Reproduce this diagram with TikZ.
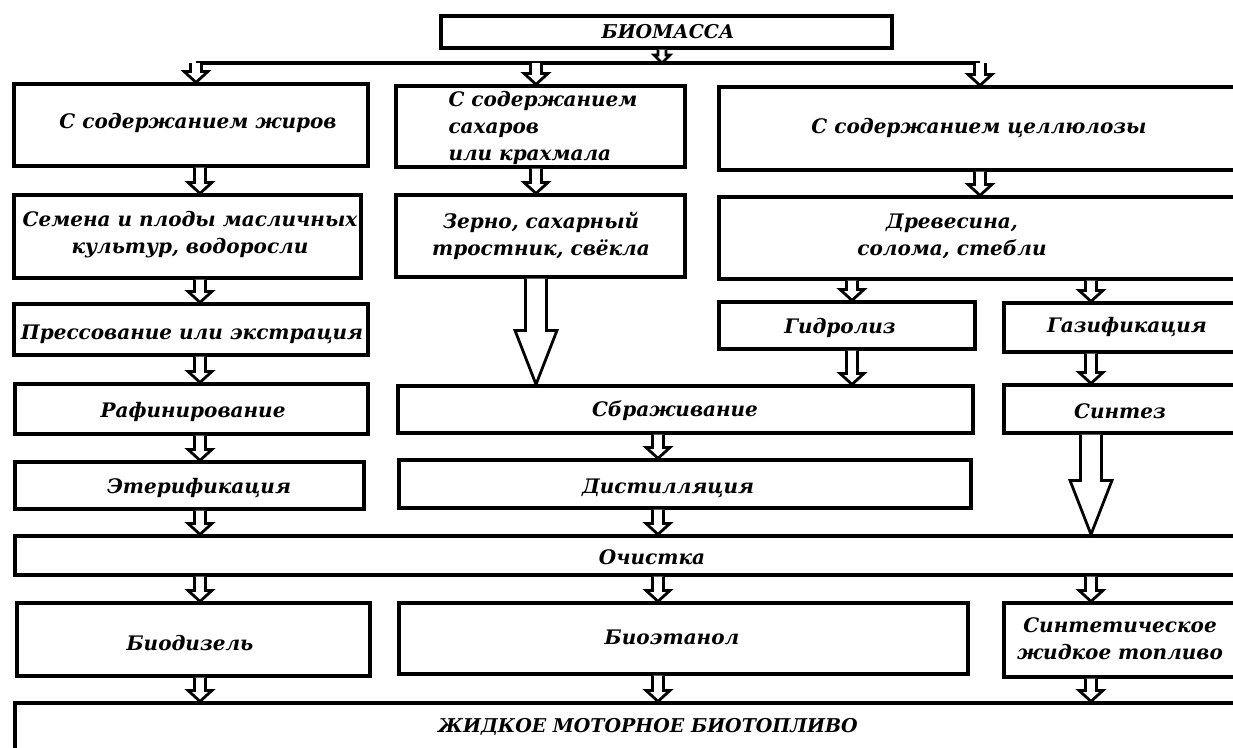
\documentclass[tikz,border=0pt]{standalone}
\usepackage{fontspec}
\setmainfont{DejaVu Serif}
\usetikzlibrary{calc}

\tikzset{
  box/.style={
    draw,
    line width=3.2pt,
    inner sep=0pt,
  },
  txt/.style={
    font=\bfseries\itshape\fontsize{20}{27}\selectfont,
    inner sep=0pt,
  },
  hollow/.style n args={3}{
    draw,
    line width=2.8pt,
    fill=white,
    line join=miter,
    to path={let \p1=(\tikztostart), \p2=(\tikztotarget) in
      (\x1-#1,\y1) -- (\x1-#1,\y2+#3) -- (\x1-#2,\y2+#3) -- (\x1,\y2)
      -- (\x1+#2,\y2+#3) -- (\x1+#1,\y2+#3) -- (\x1+#1,\y1)}
  },
  tinyarrow/.style={hollow={4pt}{8pt}{8pt}},
  smallarrow/.style={hollow={5.5pt}{12pt}{11pt}},
  bigarrow/.style={hollow={10.5pt}{21pt}{54pt}},
}
% box from its corners, text at its own point
\newcommand{\stage}[9][center]{%
  \node[box, minimum width={(#5-#3)*1pt}, minimum height={(#6-#4)*1pt}]
    (#2) at ({(#3+#5)/2},{(#4+#6)/2}) {};
  \node[txt, align=#1] (#2-t) at (#7,#8) {#9};
}
\newcommand{\capsize}{\fontsize{19}{27}\selectfont}

\begin{document}
\begin{tikzpicture}[x=1pt, y=-1pt]

\useasboundingbox (0,0) rectangle (1233,747);
\clip (0,0) rectangle (1233,747);

% arrow columns
\coordinate (xa) at (200,0);
\coordinate (xb) at (536,0);
\coordinate (xc) at (980,0);
\coordinate (xg) at (852,0);
\coordinate (xd) at (1091,0);
\coordinate (xe) at (658,0);
\coordinate (xt) at (662,0);

\stage{top}{441}{16}{892}{48}{668}{32}{\capsize БИОМАССА}

\coordinate (hl) at (196,63);
\coordinate (hr) at (980,63);
\draw[line width=3.2pt] (hl) -- (hr);

\stage{a1}{14}{84}{368}{166}{198}{123}{С содержанием жиров}
\stage[left]{b1}{396}{86}{685}{167}{543}{128}{С содержанием\\ сахаров\\ или крахмала}
\stage{c1}{719}{87}{1250}{170}{979}{128}{С содержанием целлюлозы}

\stage{a2}{14}{195}{361}{278}{190}{235}{Семена и плоды масличных\\ культур, водоросли}
\stage{b2}{396}{195}{685}{277}{541}{236}{Зерно, сахарный\\ тростник, свёкла}
\stage{c2}{719}{197}{1250}{279}{952}{236}{Древесина,\\ солома, стебли}

\stage{a3}{14}{304}{368}{355}{192}{334}{Прессование или экстрация}
\stage{c3}{719}{302}{975}{349}{840}{328}{Гидролиз}
\stage{d3}{1004}{303}{1250}{352}{1127}{327}{Газификация}

\stage{a4}{15}{384}{368}{434}{193}{412}{Рафинирование}
\stage{b4}{398}{386}{973}{433}{675}{411}{Сбраживание}
\stage{d4}{1004}{385}{1250}{433}{1120}{411}{Синтез}

\stage{a5}{15}{462}{364}{509}{199}{488}{Этерификация}
\stage{b5}{399}{460}{971}{508}{668}{488}{Дистилляция}

\stage{f6}{15}{536}{1250}{575}{652}{557}{Очистка}

\stage{a7}{17}{603}{370}{676}{190}{643}{Биодизель}
\stage{b7}{399}{603}{968}{674}{672}{637}{Биоэтанол}
\stage{d7}{1004}{603}{1250}{677}{1120}{639}{Синтетическое\\ жидкое топливо}

\stage{g8}{15}{703}{1250}{752}{648}{727}{\capsize ЖИДКОЕ МОТОРНОЕ БИОТОПЛИВО}

% arrows
\draw[tinyarrow] (top.south -| xt) to (xt |- hl);
\draw[smallarrow] (hl) to (a1.north -| hl);
\draw[smallarrow] (xb |- hl) to (b1.north -| xb);
\draw[smallarrow] (hr) to (c1.north -| hr);

\draw[smallarrow] (a1.south -| xa) to (a2.north -| xa);
\draw[smallarrow] (b1.south -| xb) to (b2.north -| xb);
\draw[smallarrow] (c1.south -| xc) to (c2.north -| xc);

\draw[smallarrow] (a2.south -| xa) to (a3.north -| xa);
\draw[bigarrow] (b2.south -| xb) to (b4.north -| xb);
\draw[smallarrow] (c2.south -| xg) to (c3.north -| xg);
\draw[smallarrow] (c2.south -| xd) to (d3.north -| xd);

\draw[smallarrow] (a3.south -| xa) to (a4.north -| xa);
\draw[smallarrow] (c3.south -| xg) to (b4.north -| xg);
\draw[smallarrow] (d3.south -| xd) to (d4.north -| xd);

\draw[smallarrow] (a4.south -| xa) to (a5.north -| xa);
\draw[smallarrow] (b4.south -| xe) to (b5.north -| xe);
\draw[bigarrow] (d4.south -| xd) to (f6.north -| xd);

\draw[smallarrow] (a5.south -| xa) to (f6.north -| xa);
\draw[smallarrow] (b5.south -| xe) to (f6.north -| xe);

\draw[smallarrow] (f6.south -| xa) to (a7.north -| xa);
\draw[smallarrow] (f6.south -| xe) to (b7.north -| xe);
\draw[smallarrow] (f6.south -| xd) to (d7.north -| xd);

\draw[smallarrow] (a7.south -| xa) to (g8.north -| xa);
\draw[smallarrow] (b7.south -| xe) to (g8.north -| xe);
\draw[smallarrow] (d7.south -| xd) to (g8.north -| xd);

\end{tikzpicture}
\end{document}
